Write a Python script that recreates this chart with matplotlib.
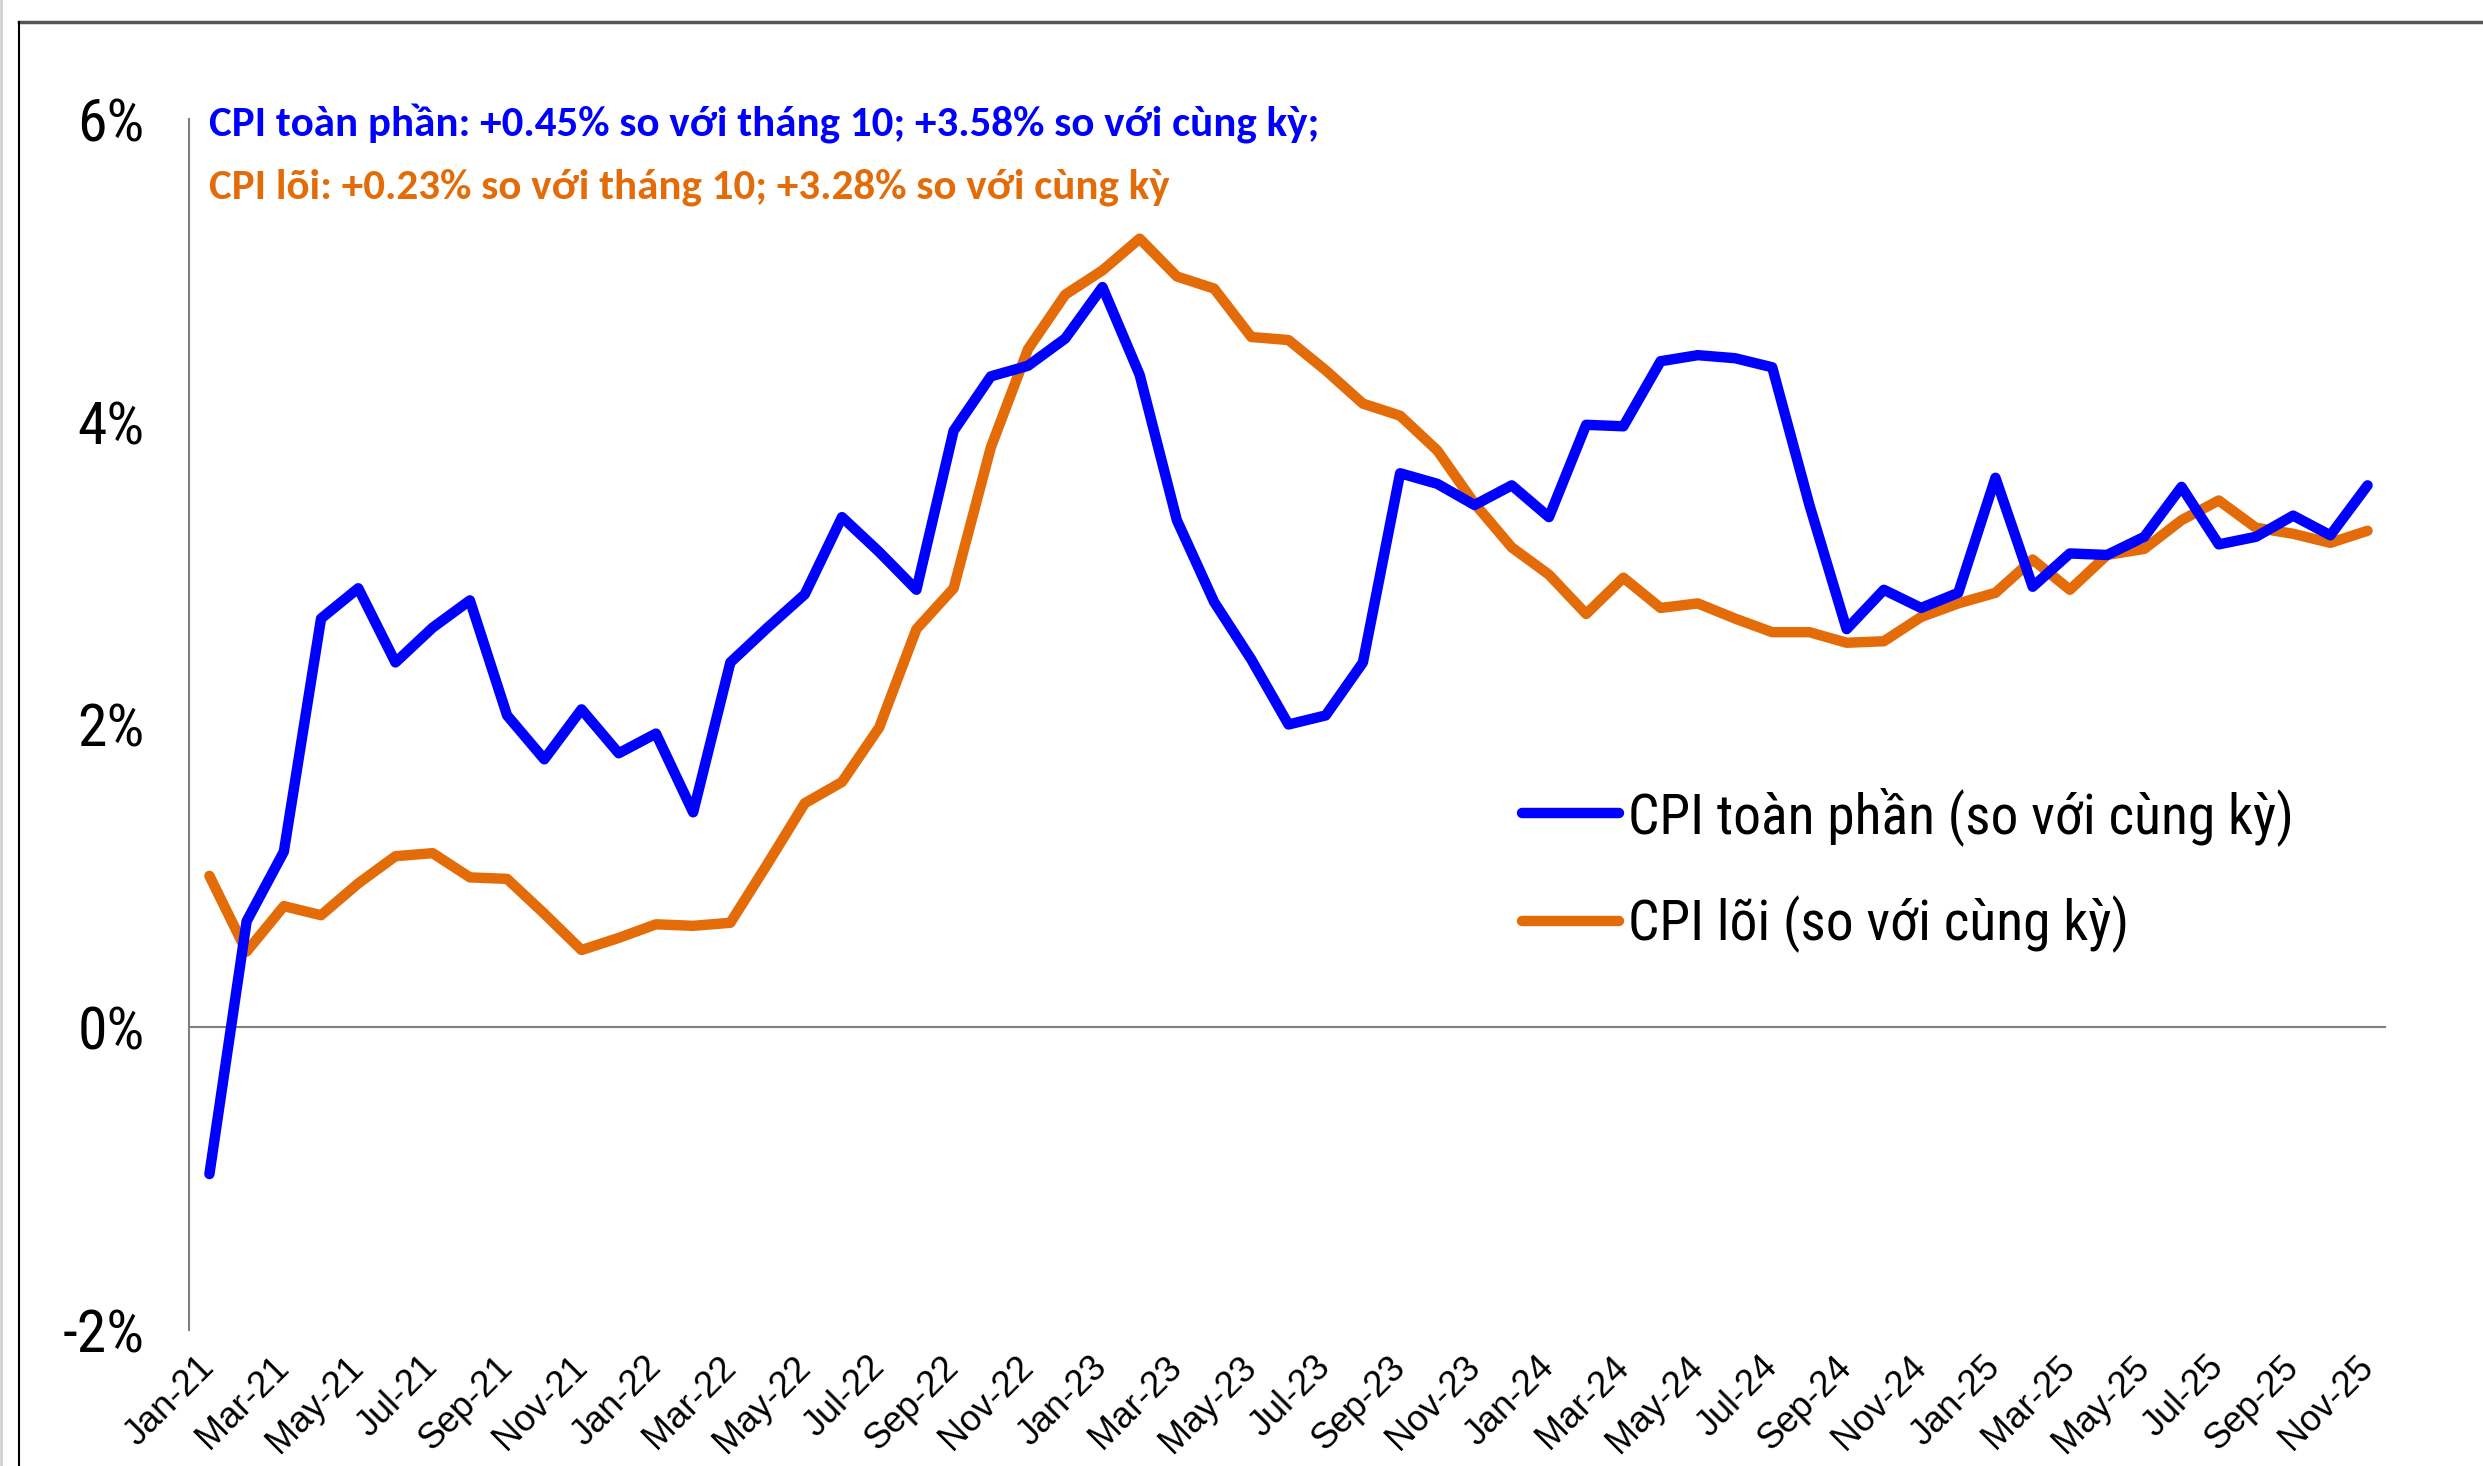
import numpy as np
import matplotlib
matplotlib.use("Agg")
import matplotlib.pyplot as plt
from matplotlib.lines import Line2D

# months Jan-21 .. Nov-25
labels = []
mnames = ['Jan', 'Feb', 'Mar', 'Apr', 'May', 'Jun', 'Jul', 'Aug', 'Sep', 'Oct', 'Nov', 'Dec']
for yr in range(21, 26):
    for m in mnames:
        labels.append(f'{m}-{yr}')
labels = labels[:59]

# CPI toàn phần, % so với cùng kỳ
cpi_headline = [-0.97, 0.70, 1.16, 2.70, 2.90, 2.41, 2.64, 2.82, 2.06, 1.77, 2.10, 1.81,
                1.94, 1.42, 2.41, 2.64, 2.86, 3.37, 3.14, 2.89, 3.94, 4.30, 4.37, 4.55,
                4.89, 4.31, 3.35, 2.81, 2.43, 2.00, 2.06, 2.41, 3.66, 3.59, 3.45, 3.58,
                3.37, 3.98, 3.97, 4.40, 4.44, 4.42, 4.36, 3.45, 2.63, 2.89, 2.77, 2.87,
                3.63, 2.91, 3.13, 3.12, 3.24, 3.57, 3.19, 3.24, 3.38, 3.25, 3.58]

# CPI lõi, % so với cùng kỳ
cpi_core = [1.00, 0.50, 0.80, 0.74, 0.95, 1.13, 1.15, 0.99, 0.98, 0.75, 0.51, 0.59,
            0.68, 0.67, 0.69, 1.08, 1.48, 1.62, 1.98, 2.63, 2.90, 3.83, 4.48, 4.84,
            5.00, 5.21, 4.96, 4.88, 4.56, 4.54, 4.34, 4.12, 4.04, 3.81, 3.46, 3.17,
            2.99, 2.73, 2.97, 2.77, 2.80, 2.70, 2.61, 2.61, 2.54, 2.55, 2.71, 2.80,
            2.87, 3.09, 2.89, 3.12, 3.16, 3.35, 3.48, 3.30, 3.26, 3.20, 3.28]

y_ticks = [-2, 0, 2, 4, 6]

BLUE = '#0000FF'
ORANGE = '#E36C09'
narrow = ['Roboto Condensed', 'Archivo Narrow', 'Liberation Sans', 'DejaVu Sans']
calibri = ['Carlito', 'Lato', 'DejaVu Sans']

fig = plt.figure(figsize=(24.83, 14.66), dpi=100)
ax = fig.add_axes([0.0761, 0.0928, 0.961 - 0.0761, 0.9188 - 0.0928])

x = np.arange(len(labels))
ax.plot(x, cpi_headline, color=BLUE, lw=7.5, solid_capstyle='round', solid_joinstyle='round', zorder=3)
ax.plot(x, cpi_core, color=ORANGE, lw=7.5, solid_capstyle='round', solid_joinstyle='round', zorder=2)

ax.axhline(0, color='#808080', lw=1.5, zorder=1)
ax.set_xlim(-0.55, len(labels) - 0.5)
ax.set_ylim(-2, 6)

ax.set_yticks(y_ticks)
ax.set_yticklabels([f'{v}%' for v in y_ticks], fontfamily=narrow, fontsize=43)
ax.set_xticks(x[::2])
ax.set_xticklabels(labels[::2], rotation=45, ha='right', va='center', rotation_mode='anchor',
                   fontfamily=['Liberation Sans', 'DejaVu Sans'], fontsize=26)
ax.tick_params(axis='y', length=0, pad=32)
ax.tick_params(axis='x', length=0, pad=23)

for s in ['top', 'right', 'bottom']:
    ax.spines[s].set_visible(False)
ax.spines['left'].set_color('#808080')
ax.spines['left'].set_linewidth(1.5)

# annotation text
ax.text(0, 5.97, 'CPI toàn phần: +0.45% so với tháng 10; +3.58% so với cùng kỳ;',
        color=BLUE, fontsize=31, fontweight='bold', fontfamily=calibri,
        ha='left', va='center')
ax.text(0, 5.55, 'CPI lõi: +0.23% so với tháng 10; +3.28% so với cùng kỳ',
        color=ORANGE, fontsize=31, fontweight='bold', fontfamily=calibri,
        ha='left', va='center')

handles = [Line2D([], [], color=BLUE, lw=7.5, solid_capstyle='round'),
           Line2D([], [], color=ORANGE, lw=7.5, solid_capstyle='round')]
ax.legend(handles, ['CPI toàn phần (so với cùng kỳ)', 'CPI lõi (so với cùng kỳ)'],
          loc='center left', bbox_to_anchor=(1522 / 2483, 1 - 870 / 1466),
          bbox_transform=fig.transFigure, frameon=False,
          prop={'family': narrow, 'size': 40}, handlelength=1.75, handletextpad=0.15,
          labelspacing=0.9, borderpad=0, borderaxespad=0)

# outer frame lines
fig.add_artist(Line2D([19 / 2483, 1], [1 - 22 / 1466, 1 - 22 / 1466], color='#555555', lw=2.5,
                      transform=fig.transFigure))
fig.add_artist(Line2D([19 / 2483, 19 / 2483], [0, 1 - 22 / 1466], color='black', lw=1.5,
                      transform=fig.transFigure))
fig.add_artist(Line2D([1 / 2483, 1 / 2483], [0, 1], color='#d0d0d0', lw=2,
                      transform=fig.transFigure))

fig.savefig('out.png', dpi=100)
